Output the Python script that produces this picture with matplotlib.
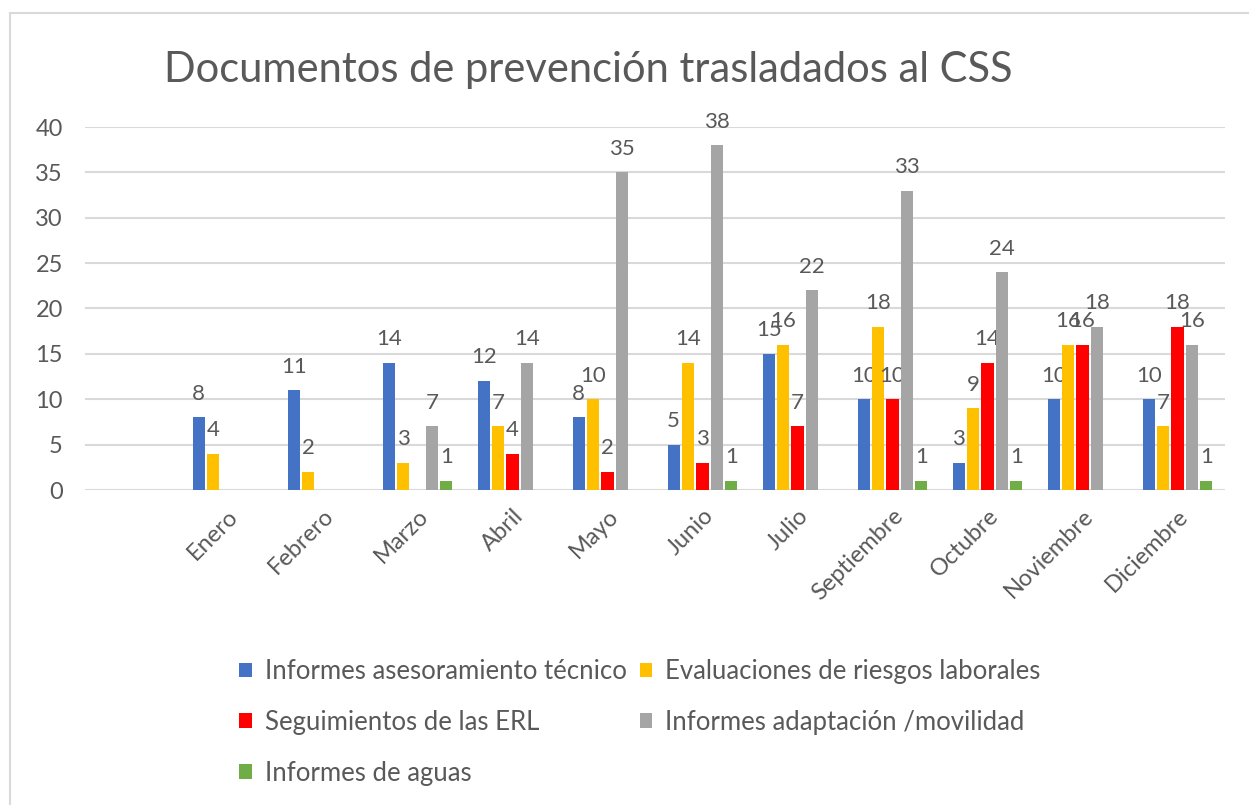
import numpy as np
import matplotlib
matplotlib.use("Agg")
from matplotlib import pyplot as plt
from matplotlib.patches import Rectangle

meses = ["Enero", "Febrero", "Marzo", "Abril", "Mayo", "Junio", "Julio",
         "Septiembre", "Octubre", "Noviembre", "Diciembre"]
nan = np.nan
asesoramiento = [8, 11, 14, 12, 8, 5, 15, 10, 3, 10, 10]
evaluaciones = [4, 2, 3, 7, 10, 14, 16, 18, 9, 16, 7]
seguimientos = [nan, nan, nan, 4, 2, 3, 7, 10, 14, 16, 18]
adaptacion = [nan, nan, 7, 14, 35, 38, 22, 33, 24, 18, 16]
aguas = [nan, nan, 1, nan, nan, 1, nan, 1, 1, nan, 1]

series = [
    ("Informes asesoramiento técnico", asesoramiento, "#4472C4"),
    ("Evaluaciones de riesgos laborales", evaluaciones, "#FFC000"),
    ("Seguimientos de las ERL", seguimientos, "#FF0000"),
    ("Informes adaptación /movilidad", adaptacion, "#A5A5A5"),
    ("Informes de aguas", aguas, "#70AD47"),
]

plt.rcParams['font.family'] = ['Lato', 'DejaVu Sans']
gris = "#595959"

dpi = 100
fig = plt.figure(figsize=(1249 / dpi, 805 / dpi), dpi=dpi)
ax = fig.add_axes([85 / 1249, 315 / 805, 1140 / 1249, 363 / 805])

# marco del gráfico
fig.patches.append(Rectangle((10 / 1249, -0.1), 1.2, 1.1 - 13 / 805,
                             transform=fig.transFigure, fill=False,
                             edgecolor="#d9d9d9", linewidth=1.5))

x = np.arange(len(meses))
step = 0.152
width = 0.127
handles = []
for i, (name, vals, color) in enumerate(series):
    vals = np.array(vals, dtype=float)
    ok = ~np.isnan(vals)
    pos = x[ok] + (i - 2) * step
    b = ax.bar(pos, vals[ok], width, color=color, label=name, zorder=3)
    handles.append(b)
    for px, v in zip(pos, vals[ok]):
        ax.annotate(f"{int(v)}", (px, v), xytext=(0, 17), textcoords="offset points",
                    ha="center", va="center", fontsize=16, color=gris)

ax.set_ylim(0, 40)
ax.set_yticks(range(0, 41, 5))
ax.set_xlim(-1.5, len(meses) - 0.5)
ax.set_xticks(x)
ax.set_xticklabels(meses, rotation=45, ha="right", rotation_mode="anchor")
ax.tick_params(axis="both", length=0, labelsize=17, labelcolor=gris)
ax.tick_params(axis="x", pad=11)
ax.tick_params(axis="y", pad=16)
ax.yaxis.grid(True, color="#d9d9d9", linewidth=1.5, zorder=0)
ax.set_axisbelow(True)
for s in ax.spines.values():
    s.set_visible(False)

fig.text(588 / 1249, 1 - 70 / 805, "Documentos de prevención trasladados al CSS",
         ha="center", va="center", fontsize=30, color=gris)

# Excel rellena la leyenda por filas
orden = [0, 2, 4, 1, 3]
fig.legend(handles=[handles[k] for k in orden], ncol=2, loc="upper left",
           bbox_to_anchor=(216 / 1249, 1 - 636 / 805), frameon=False,
           fontsize=18.5, labelcolor=gris, handlelength=0.5, handleheight=0.5,
           handletextpad=0.5, columnspacing=0.5, labelspacing=1.0)

fig.savefig("out.png", dpi=dpi)
